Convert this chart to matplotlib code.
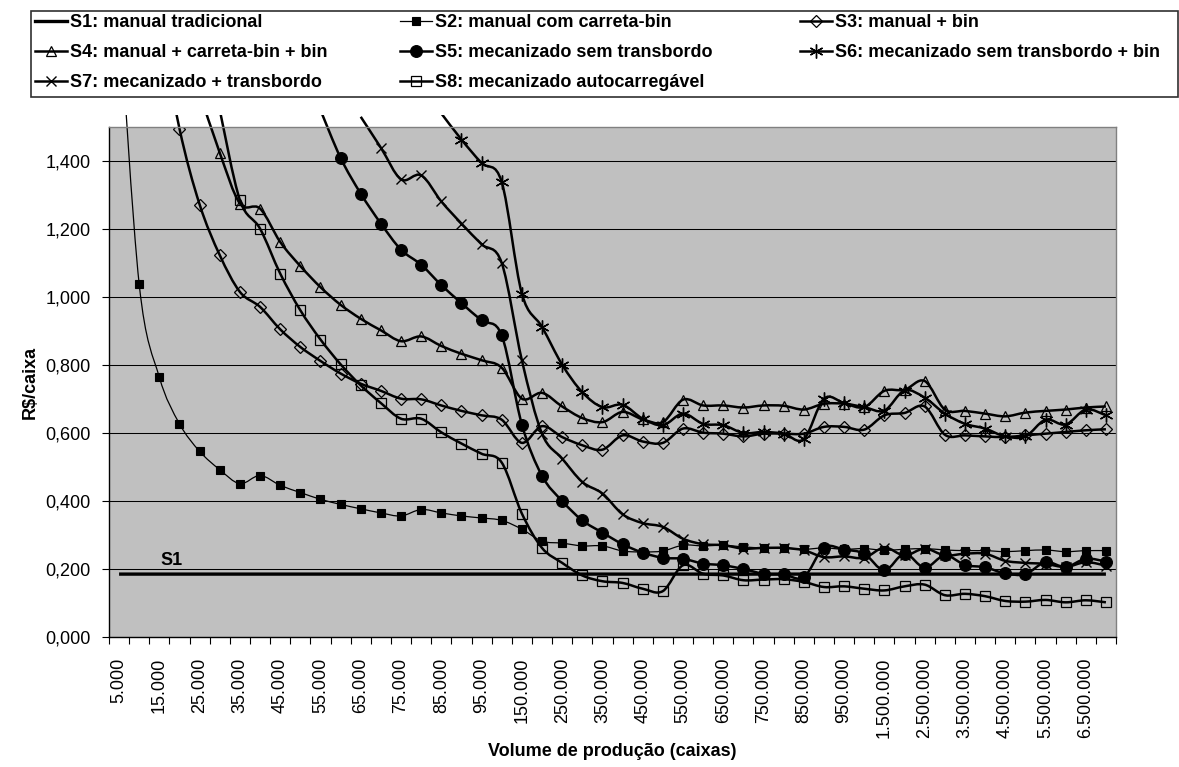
import numpy as np
import matplotlib
matplotlib.use("Agg")
import matplotlib.pyplot as plt
from matplotlib.patches import Rectangle, PathPatch
from matplotlib.lines import Line2D
from matplotlib.path import Path
from matplotlib.transforms import Bbox, TransformedBbox

plt.rcParams['font.family'] = ['Liberation Sans', 'DejaVu Sans']

nan = np.nan

categories = ["5.000", "10.000", "15.000", "20.000", "25.000", "30.000", "35.000", "40.000",
              "45.000", "50.000", "55.000", "60.000", "65.000", "70.000", "75.000", "80.000",
              "85.000", "90.000", "95.000", "100.000", "150.000", "200.000", "250.000", "300.000",
              "350.000", "400.000", "450.000", "500.000", "550.000", "600.000", "650.000", "700.000",
              "750.000", "800.000", "850.000", "900.000", "950.000", "1.000.000", "1.500.000",
              "2.000.000", "2.500.000", "3.000.000", "3.500.000", "4.000.000", "4.500.000",
              "5.000.000", "5.500.000", "6.000.000", "6.500.000", "7.000.000"]

s1 = [0.185, 0.185, 0.185, 0.185, 0.185, 0.185, 0.185, 0.185, 0.185, 0.185,
      0.185, 0.185, 0.185, 0.185, 0.185, 0.185, 0.185, 0.185, 0.185, 0.185,
      0.185, 0.185, 0.185, 0.185, 0.185, 0.185, 0.185, 0.185, 0.185, 0.185,
      0.185, 0.185, 0.185, 0.185, 0.185, 0.185, 0.185, 0.185, 0.185, 0.185,
      0.185, 0.185, 0.185, 0.185, 0.185, 0.185, 0.185, 0.185, 0.185, 0.185]

s2 = [1.85, 1.037, 0.764, 0.627, 0.546, 0.492, 0.451, 0.475, 0.446, 0.425,
      0.405, 0.390, 0.377, 0.365, 0.356, 0.375, 0.365, 0.356, 0.350, 0.343,
      0.317, 0.282, 0.276, 0.268, 0.268, 0.253, 0.250, 0.253, 0.270, 0.268,
      0.270, 0.265, 0.262, 0.262, 0.258, 0.262, 0.258, 0.260, 0.255, 0.258,
      0.260, 0.256, 0.254, 0.254, 0.251, 0.254, 0.256, 0.251, 0.254, 0.254]

s3 = [nan, nan, 1.82, 1.495, 1.272, 1.123, 1.015, 0.971, 0.905, 0.853,
      0.812, 0.775, 0.745, 0.724, 0.701, 0.699, 0.681, 0.665, 0.652, 0.639,
      0.571, 0.620, 0.588, 0.564, 0.551, 0.593, 0.575, 0.571, 0.613, 0.601,
      0.598, 0.590, 0.598, 0.598, 0.598, 0.618, 0.618, 0.610, 0.652, 0.659,
      0.678, 0.595, 0.593, 0.590, 0.588, 0.593, 0.598, 0.603, 0.608, 0.611]

s4 = [nan, nan, nan, nan, 1.60, 1.424, 1.275, 1.260, 1.162, 1.091,
      1.029, 0.977, 0.936, 0.902, 0.870, 0.884, 0.856, 0.833, 0.814, 0.792,
      0.701, 0.718, 0.678, 0.644, 0.632, 0.662, 0.640, 0.632, 0.698, 0.681,
      0.681, 0.675, 0.681, 0.680, 0.669, 0.686, 0.686, 0.676, 0.724, 0.727,
      0.753, 0.669, 0.665, 0.657, 0.649, 0.660, 0.665, 0.669, 0.675, 0.678]

s5 = [nan, nan, nan, nan, nan, nan, nan, nan, nan, nan,
      1.55, 1.409, 1.304, 1.216, 1.139, 1.095, 1.035, 0.982, 0.931, 0.887,
      0.625, 0.474, 0.400, 0.343, 0.307, 0.273, 0.248, 0.233, 0.230, 0.216,
      0.211, 0.200, 0.186, 0.184, 0.176, 0.263, 0.257, 0.245, 0.196, 0.245,
      0.204, 0.240, 0.212, 0.205, 0.187, 0.185, 0.220, 0.206, 0.230, 0.222]

s6 = [nan, nan, nan, nan, nan, nan, nan, nan, nan, nan,
      nan, nan, nan, nan, nan, nan, 1.54, 1.463, 1.394, 1.338,
      1.010, 0.912, 0.801, 0.720, 0.676, 0.683, 0.642, 0.623, 0.657, 0.627,
      0.623, 0.600, 0.603, 0.598, 0.582, 0.701, 0.688, 0.676, 0.666, 0.725,
      0.704, 0.657, 0.627, 0.613, 0.590, 0.590, 0.639, 0.625, 0.669, 0.652]

s7 = [nan, nan, nan, nan, nan, nan, nan, nan, nan, nan,
      nan, nan, 1.53, 1.439, 1.346, 1.358, 1.281, 1.216, 1.155, 1.100,
      0.814, 0.598, 0.525, 0.456, 0.422, 0.361, 0.335, 0.324, 0.289, 0.273,
      0.270, 0.260, 0.262, 0.262, 0.255, 0.235, 0.237, 0.233, 0.263, 0.240,
      0.260, 0.240, 0.245, 0.245, 0.224, 0.218, 0.215, 0.206, 0.220, 0.210]

s8 = [nan, nan, nan, nan, nan, 1.55, 1.285, 1.201, 1.069, 0.961,
      0.875, 0.802, 0.740, 0.688, 0.642, 0.642, 0.602, 0.569, 0.539, 0.513,
      0.363, 0.262, 0.218, 0.181, 0.164, 0.159, 0.142, 0.135, 0.211, 0.186,
      0.181, 0.167, 0.169, 0.170, 0.162, 0.147, 0.149, 0.142, 0.137, 0.149,
      0.154, 0.123, 0.127, 0.120, 0.106, 0.104, 0.109, 0.102, 0.108, 0.102]

labels = ["S1: manual tradicional", "S2: manual com carreta-bin", "S3: manual + bin",
          "S4: manual + carreta-bin + bin", "S5: mecanizado sem transbordo",
          "S6: mecanizado sem transbordo + bin", "S7: mecanizado + transbordo",
          "S8: mecanizado autocarregável"]

line_w = [2.4, 0.9, 1.8, 1.8, 1.8, 1.8, 1.8, 1.8]
mark_st = [
    None,
    dict(marker='s', ms=5.5, mfc='black', mec='black', mew=0.8),
    dict(marker='D', ms=6, mfc='none', mec='black', mew=0.9),
    dict(marker='^', ms=7, mfc='none', mec='black', mew=0.9),
    dict(marker='o', ms=8.5, mfc='black', mec='black', mew=0.8),
    dict(marker=(6, 2, 0), ms=10, mfc='black', mec='black', mew=1.0),
    dict(marker='x', ms=7.5, mfc='black', mec='black', mew=1.0),
    dict(marker='s', ms=7, mfc='none', mec='black', mew=0.9),
]


def smooth_path(xs, ys):
    """Spreadsheet-style smoothed line: cubic Bezier through every data point."""
    xs = np.asarray(xs, float)
    ys = np.asarray(ys, float)
    idx = np.where(~np.isnan(ys))[0]
    runs = np.split(idx, np.where(np.diff(idx) != 1)[0] + 1)
    verts, codes = [], []
    for r in runs:
        if len(r) == 0:
            continue
        P = np.column_stack([xs[r], ys[r]])
        n = len(P)
        verts.append(P[0])
        codes.append(Path.MOVETO)
        for k in range(n - 1):
            pm = P[k - 1] if k > 0 else P[k]
            p0, p1 = P[k], P[k + 1]
            p2 = P[k + 2] if k + 2 < n else P[k + 1]
            verts += [p0 + (p1 - pm) / 6.0, p1 - (p2 - p0) / 6.0, p1]
            codes += [Path.CURVE4] * 3
    return Path(verts, codes)


FS = 13
W, H = 1179, 767
fig = plt.figure(figsize=(W / 100, H / 100), dpi=100)
ax = fig.add_axes([109 / W, 1 - 637 / H, (1116 - 109) / W, (637 - 127) / H])
ax.set_facecolor('#C0C0C0')

# lines may run a little above the plot area (as in the original), markers stay inside
line_clip = TransformedBbox(Bbox([[109 / W, 1 - 637 / H], [1116 / W, 1 - 115 / H]]),
                            fig.transFigure)

x = np.arange(len(categories))
data = [s1, s2, s3, s4, s5, s6, s7, s8]
handles = []
for lab, d, lw, ms in zip(labels, data, line_w, mark_st):
    patch = PathPatch(smooth_path(x, d), facecolor='none', edgecolor='black', lw=lw,
                      joinstyle='round', capstyle='butt')
    ax.add_patch(patch)
    patch.set_clip_box(line_clip)
    if ms is not None:
        ax.plot(x, d, linestyle='none', **ms)
        handles.append(Line2D([], [], color='black', lw=lw, **ms))
    else:
        handles.append(Line2D([], [], color='black', lw=lw))

ax.set_xlim(-0.5, len(categories) - 0.5)
ax.set_ylim(0, 1.5)

yt = [0.0, 0.2, 0.4, 0.6, 0.8, 1.0, 1.2, 1.4]
ax.set_yticks(yt)
ax.set_yticklabels([f"{v:.3f}".replace('.', ',') for v in yt], fontsize=FS)
ax.yaxis.grid(True, color='black', lw=0.75)
ax.set_axisbelow(True)
ax.tick_params(axis='y', length=5, width=0.8, pad=8, direction='out')

ax.set_xticks(x[::2])
ax.set_xticklabels(categories[::2], rotation=90, fontsize=FS)
ax.set_xticks(np.arange(len(categories) + 1) - 0.5, minor=True)
ax.tick_params(axis='x', which='major', length=0, pad=15)
ax.tick_params(axis='x', which='minor', length=5, width=0.8, direction='out')

for side in ['left', 'bottom']:
    ax.spines[side].set_color('black')
    ax.spines[side].set_linewidth(1.0)
for side in ['top', 'right']:
    ax.spines[side].set_color('#808080')
    ax.spines[side].set_linewidth(1.0)

ax.text(2.6, 0.226, 'S1', ha='center', va='center', fontsize=FS, fontweight='bold')

fig.text(612 / W, 1 - 752 / H, 'Volume de produção (caixas)', ha='center', va='center',
         fontsize=FS, fontweight='bold')
fig.text(30 / W, 1 - 382 / H, 'R$/caixa', ha='center', va='center', rotation=90,
         fontsize=FS, fontweight='bold')

# legend frame
fig.patches.append(Rectangle((31 / W, 1 - 97 / H), (1178 - 31) / W, 86 / H,
                             transform=fig.transFigure, facecolor='white',
                             edgecolor='#303030', lw=1.2, zorder=4))

cols = [[0, 3, 6], [1, 4, 7], [2, 5]]
col_x = [35, 400, 800]
for idxs, cx in zip(cols, col_x):
    lg = fig.legend([handles[i] for i in idxs], [labels[i] for i in idxs],
                    loc='upper left', bbox_to_anchor=(cx / W, 1 - 14 / H),
                    frameon=False, borderpad=0, borderaxespad=0,
                    handlelength=1.75, handletextpad=0.18, labelspacing=0.72,
                    prop=dict(weight='bold', size=FS))
    lg.set_zorder(6)

fig.savefig('out.png', dpi=100)
